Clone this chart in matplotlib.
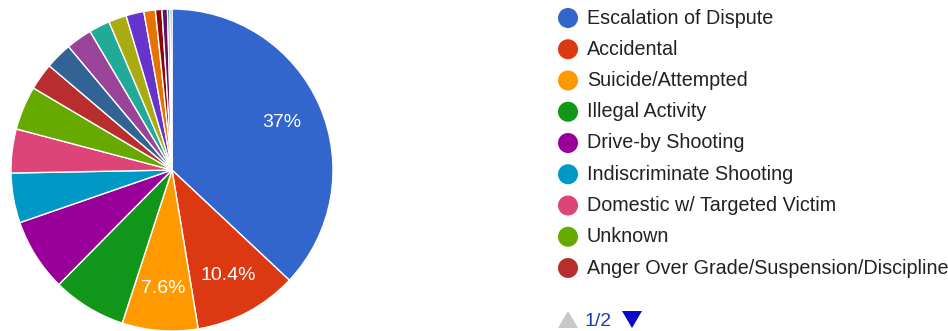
import matplotlib
matplotlib.use("Agg")
import matplotlib.pyplot as plt
from matplotlib.patches import Circle

plt.rcParams['font.family'] = ['Liberation Sans', 'DejaVu Sans']

categories = [
    "Escalation of Dispute", "Accidental", "Suicide/Attempted", "Illegal Activity",
    "Drive-by Shooting", "Indiscriminate Shooting", "Domestic w/ Targeted Victim",
    "Unknown", "Anger Over Grade/Suspension/Discipline", "Officer-Involved Shooting",
    "Self-defense", "Hostage/Standoff", "Bullying", "Psychosis",
    "Intentional Property Damage", "Murder/Suicide", "Racial", "Gang-related", "Other",
]
values = [37.0, 10.4, 7.6, 7.4, 7.3, 5.0, 4.4, 4.4, 2.7, 2.7, 2.6, 2.1, 1.8, 1.8,
          1.15, 0.65, 0.55, 0.25, 0.2]
colors = ["#3366cc", "#dc3912", "#ff9900", "#109618", "#990099", "#0099c6", "#dd4477",
          "#66aa00", "#b82e2e", "#316395", "#994499", "#22aa99", "#aaaa11", "#6633cc",
          "#e67300", "#8b0707", "#651067", "#329262", "#5574a6"]
legend_page = "1/2"
legend_rows = 9

W, H = 948, 331
fig = plt.figure(figsize=(W / 100, H / 100), dpi=100)
fig.patch.set_facecolor("white")

# overlay axes in pixel coordinates for legend
dot_ax = fig.add_axes([0, 0, 1, 1])
dot_ax.set_xlim(0, W)
dot_ax.set_ylim(H, 0)
dot_ax.axis("off")

cx, cy, r = 172, 170, 161
ax = fig.add_axes([(cx - r) / W, (H - cy - r) / H, 2 * r / W, 2 * r / H])


def fmt(p):
    return f"{p:.3g}%" if p >= 7.5 else ""


wedges, texts, autotexts = ax.pie(
    values, colors=colors, startangle=90, counterclock=False, radius=1,
    autopct=fmt, pctdistance=0.74,
    wedgeprops=dict(edgecolor="white", linewidth=1),
    textprops=dict(color="white", fontsize=14),
)
ax.set_xlim(-1, 1)
ax.set_ylim(-1, 1)
ax.set_aspect("equal")
ax.axis("off")

# Legend (page 1)
lx_dot, lx_text = 568, 587
y0, dy = 18, 31.25
for i in range(legend_rows):
    y = y0 + i * dy
    dot_ax.add_patch(Circle((lx_dot, y), 10, facecolor=colors[i], edgecolor="none"))
    dot_ax.text(lx_text, y, categories[i], fontsize=14.2, color="#222222",
                va="center", ha="left")

# Pager
py = 321
dot_ax.fill([558, 578, 568], [328, 328, 311], color="#c8c8c8", lw=0)
dot_ax.text(585, py, legend_page, fontsize=14, color="#1a3fb8", va="center", ha="left")
dot_ax.fill([622, 642, 632], [311, 311, 328], color="#0a0ac8", lw=0)

fig.savefig("out.png", dpi=100, facecolor="white")
